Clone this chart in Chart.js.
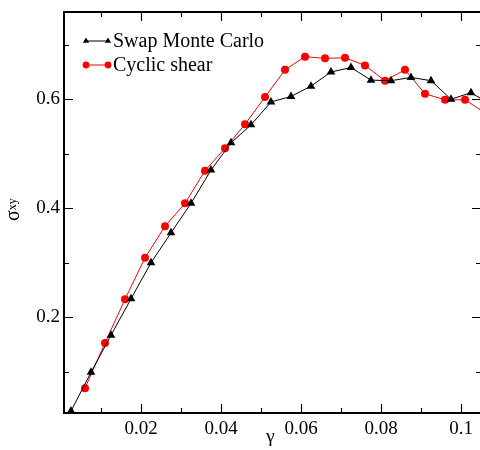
<!DOCTYPE html>
<html>
<head>
<meta charset="utf-8">
<script src="https://cdn.jsdelivr.net/npm/chart.js@4/dist/chart.umd.min.js"></script>
<style>
  html, body { margin: 0; padding: 0; overflow: hidden; background: #fff; }
  #wrap { width: 490px; height: 450px; }
</style>
</head>
<body>
<div id="wrap"><canvas id="c" width="490" height="450"></canvas></div>
<script>
// Shear stress vs. strain for two protocols
const seriesNames = ['Swap Monte Carlo', 'Cyclic shear'];

const swapGamma  = [0.0025, 0.0075, 0.0125, 0.0175, 0.0225, 0.0275, 0.0325, 0.0375, 0.0425, 0.0475, 0.0525,
                    0.0575, 0.0625, 0.0675, 0.0725, 0.0775, 0.0825, 0.0875, 0.0925, 0.0975, 0.1025, 0.1075];
const swapStress = [0.028, 0.099, 0.167, 0.234, 0.300, 0.355, 0.409, 0.470, 0.520, 0.553, 0.595,
                    0.605, 0.624, 0.650, 0.658, 0.635, 0.634, 0.640, 0.634, 0.600, 0.612, 0.590];

const shearGamma  = [0.006, 0.011, 0.016, 0.021, 0.026, 0.031, 0.036, 0.041, 0.046, 0.051, 0.056,
                     0.061, 0.066, 0.071, 0.076, 0.081, 0.086, 0.091, 0.096, 0.101, 0.106];
const shearStress = [0.070, 0.153, 0.233, 0.309, 0.367, 0.409, 0.469, 0.510, 0.554, 0.604, 0.654,
                     0.678, 0.675, 0.676, 0.662, 0.634, 0.654, 0.610, 0.599, 0.599, 0.575];

const xTicks      = [0.02, 0.04, 0.06, 0.08, 0.1];
const xTickLabels = ['0.02', '0.04', '0.06', '0.08', '0.1'];
const xMinor      = [0.01, 0.03, 0.05, 0.07, 0.09];
const yTicks      = [0.2, 0.4, 0.6];
const yTickLabels = ['0.2', '0.4', '0.6'];
const yMinor      = [0.1, 0.3, 0.5, 0.7];

const xRange = [0.00075, 0.105];
const yRange = [0.0244, 0.76];

const SERIF = '"Liberation Serif", "DejaVu Serif", serif';

function pts(xs, ys) { return xs.map((x, i) => ({ x: x, y: ys[i] })); }

// Frame with inward tick marks on all four sides, plus axis titles
const framePlugin = {
  id: 'frame',
  beforeDatasetsDraw(chart) {
    const { ctx, chartArea: a, scales: { x, y } } = chart;
    ctx.save();
    ctx.strokeStyle = '#000';
    ctx.lineWidth = 2;
    ctx.strokeRect(a.left, a.top, a.right - a.left, a.bottom - a.top);
    ctx.lineWidth = 1.2;
    ctx.beginPath();
    const tickX = (v, len) => {
      const px = Math.round(x.getPixelForValue(v)) + 0.5;
      ctx.moveTo(px, a.bottom); ctx.lineTo(px, a.bottom - len);
      ctx.moveTo(px, a.top);    ctx.lineTo(px, a.top + len);
    };
    const tickY = (v, len) => {
      const py = Math.round(y.getPixelForValue(v)) + 0.5;
      ctx.moveTo(a.left, py);  ctx.lineTo(a.left + len, py);
      ctx.moveTo(a.right, py); ctx.lineTo(a.right - len, py);
    };
    xTicks.forEach(v => tickX(v, 9));
    xMinor.forEach(v => tickX(v, 5));
    yTicks.forEach(v => tickY(v, 9));
    yMinor.forEach(v => tickY(v, 5));
    ctx.stroke();

    // x title
    ctx.fillStyle = '#000';
    ctx.font = '19px ' + SERIF;
    ctx.textAlign = 'center';
    ctx.textBaseline = 'alphabetic';
    ctx.fillText('γ', 270.5, 442);

    // y title, rotated, with subscript
    ctx.save();
    ctx.translate(18.5, 221);
    ctx.rotate(-Math.PI / 2);
    ctx.textAlign = 'left';
    ctx.font = '20px ' + SERIF;
    ctx.fillText('σ', 0, 0);
    const w = ctx.measureText('σ').width;
    ctx.font = '12px ' + SERIF;
    ctx.fillText('xy', w, -3);
    ctx.restore();
    ctx.restore();
  }
};

// Legend: line with a marker at each end, then the series name
const legendPlugin = {
  id: 'lineLegend',
  afterDraw(chart) {
    const { ctx } = chart;
    const rows = [
      { y: 41, color: '#000', style: 'triangle', r: 3.6 },
      { y: 65, color: '#ff0000', style: 'circle', r: 3.4 }
    ];
    ctx.save();
    rows.forEach((row, i) => {
      ctx.strokeStyle = row.color;
      ctx.fillStyle = row.color;
      ctx.lineWidth = 1;
      ctx.beginPath();
      ctx.moveTo(86, row.y); ctx.lineTo(108, row.y);
      ctx.stroke();
      [86, 108].forEach(px => {
        Chart.helpers.drawPoint(ctx, { pointStyle: row.style, radius: row.r, rotation: 0, borderWidth: 0 }, px, row.y);
      });
      ctx.fillStyle = '#000';
      ctx.font = '20px ' + SERIF;
      ctx.textAlign = 'left';
      ctx.textBaseline = 'middle';
      ctx.fillText(seriesNames[i], 113, row.y + 1);
    });
    ctx.restore();
  }
};

function setTicks(values) {
  return function (scale) { scale.ticks = values.map(v => ({ value: v })); };
}

new Chart(document.getElementById('c'), {
  type: 'scatter',
  data: {
    datasets: [
      {
        label: seriesNames[0],
        data: pts(swapGamma, swapStress),
        showLine: true,
        borderColor: '#000',
        backgroundColor: '#000',
        borderWidth: 1,
        pointStyle: 'triangle',
        pointRadius: 5,
        pointBorderWidth: 0,
        pointHoverRadius: 5,
        tension: 0,
        clip: false
      },
      {
        label: seriesNames[1],
        data: pts(shearGamma, shearStress),
        showLine: true,
        borderColor: '#ff0000',
        backgroundColor: '#ff0000',
        borderWidth: 1,
        pointStyle: 'circle',
        pointRadius: 4,
        pointBorderWidth: 0,
        pointHoverRadius: 4,
        tension: 0,
        clip: false
      }
    ]
  },
  options: {
    responsive: false,
    animation: false,
    events: [],
    layout: { padding: { top: 12, right: 9, left: 0, bottom: 0 } },
    plugins: { legend: { display: false }, tooltip: { enabled: false } },
    scales: {
      x: {
        type: 'linear',
        min: xRange[0],
        max: xRange[1],
        afterBuildTicks: setTicks(xTicks),
        afterFit(scale) { scale.height = 37; scale.paddingLeft = 0; scale.paddingRight = 0; },
        grid: { display: false, drawTicks: false },
        border: { display: false },
        ticks: {
          padding: 5,
          color: '#000',
          font: { family: SERIF, size: 19 },
          maxRotation: 0,
          callback: (v) => xTickLabels[xTicks.indexOf(v)]
        }
      },
      y: {
        type: 'linear',
        min: yRange[0],
        max: yRange[1],
        afterBuildTicks: setTicks(yTicks),
        afterFit(scale) { scale.width = 64; scale.paddingTop = 0; scale.paddingBottom = 0; },
        grid: { display: false, drawTicks: false },
        border: { display: false },
        ticks: {
          padding: 4,
          color: '#000',
          font: { family: SERIF, size: 19 },
          callback: (v) => yTickLabels[yTicks.indexOf(v)]
        }
      }
    }
  },
  plugins: [framePlugin, legendPlugin]
});
</script>
</body>
</html>
